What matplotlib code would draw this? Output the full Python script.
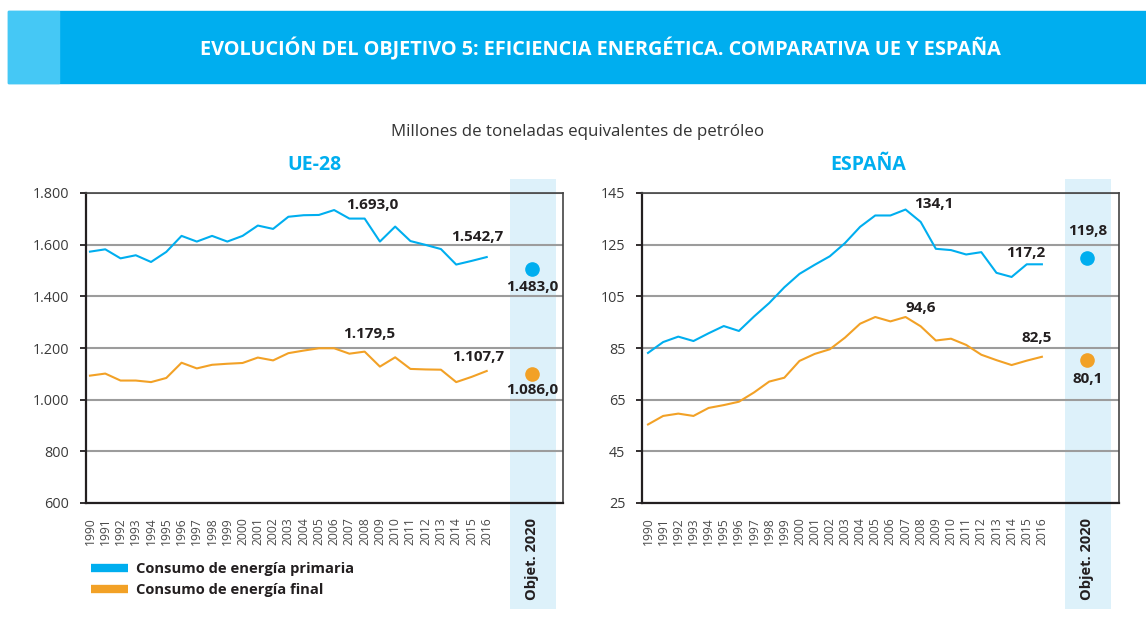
import matplotlib
matplotlib.use("Agg")
import matplotlib.pyplot as plt
import matplotlib.transforms as mtransforms
from matplotlib.patches import Rectangle
from matplotlib.lines import Line2D

plt.rcParams['font.family'] = ['Open Sans', 'DejaVu Sans']

# --- datos (Mtep) ---
years = list(range(1990, 2017))
ue_primaria = [1573, 1582, 1547, 1559, 1533, 1572, 1634, 1612, 1634, 1612, 1634, 1674, 1661, 1708,
               1714, 1715, 1734, 1701, 1701, 1612, 1670, 1614, 1599, 1583, 1523, 1537, 1552]
ue_final = [1093, 1101, 1074, 1074, 1068, 1084, 1143, 1121, 1135, 1139, 1142, 1163, 1152, 1180,
            1190, 1199, 1199, 1178, 1186, 1128, 1164, 1119, 1117, 1116, 1068, 1088, 1111]
ue_objetivo = [1507, 1098]
ue_etiquetas = ["1.693,0", "1.542,7", "1.483,0", "1.179,5", "1.107,7", "1.086,0"]

es_primaria = [83.1, 87.3, 89.4, 87.7, 90.7, 93.5, 91.6, 97.2, 102.4, 108.5, 113.7, 117.2, 120.5, 125.6,
               131.9, 136.3, 136.3, 138.6, 133.8, 123.4, 122.9, 121.2, 122.1, 114.1, 112.5, 117.4, 117.4]
es_final = [55.4, 58.7, 59.6, 58.7, 61.8, 62.9, 64.2, 67.8, 72.0, 73.5, 80.0, 82.7, 84.5, 89.0,
            94.4, 97.0, 95.3, 97.0, 93.4, 87.9, 88.6, 86.2, 82.4, 80.3, 78.4, 80.1, 81.6]
es_objetivo = [119.8, 80.3]
es_etiquetas = ["134,1", "117,2", "119,8", "94,6", "82,5", "80,1"]

ue_yticks = [600, 800, 1000, 1200, 1400, 1600, 1800]
ue_ylabels = ["600", "800", "1.000", "1.200", "1.400", "1.600", "1.800"]
es_yticks = [25, 45, 65, 85, 105, 125, 145]
es_ylabels = [str(v) for v in es_yticks]

titulo = "EVOLUCIÓN DEL OBJETIVO 5: EFICIENCIA ENERGÉTICA. COMPARATIVA UE Y ESPAÑA"
subtitulo = "Millones de toneladas equivalentes de petróleo"
leyenda = ["Consumo de energía primaria", "Consumo de energía final"]

AZUL = '#00AEEF'
NARANJA = '#F2A126'
BANDA = '#DDF1FA'
TXT = '#231F20'

W, H = 1146, 630
fig = plt.figure(figsize=(W / 100, H / 100), dpi=100)


def fx(px):
    return px / W


def fy(py):
    return 1 - py / H


# cabecera
fig.patches.append(Rectangle((fx(8), fy(83)), fx(W) - fx(8), 72 / H, transform=fig.transFigure,
                             color=AZUL, zorder=0))
fig.patches.append(Rectangle((fx(8), fy(83)), 51 / W, 72 / H, transform=fig.transFigure,
                             color='#45C8F5', zorder=1))
fig.text(fx(600), fy(55), titulo, color='white', fontsize=14.3, weight='bold',
         ha='center', va='baseline')
fig.text(fx(578), fy(136), subtitulo, color='#333333', fontsize=12.2, ha='center', va='baseline')


def panel(left_px, right_px, x0, x1, ylim, yticks, ylabels, primaria, final, objetivo,
          etiquetas, pico, offsets, nombre, nombre_x):
    ax = fig.add_axes([fx(left_px), fy(503), (right_px - left_px) / W, 310 / H])
    ax.set_xlim(x0, x1)
    ax.set_ylim(*ylim)
    idx = list(range(len(years)))

    ax.axvspan(27.54, 30.54, ymin=-0.342, ymax=1.045, color=BANDA, lw=0, zorder=0.2, clip_on=False)
    ax.set_axisbelow(True)
    ax.yaxis.grid(True, color='#9C9C9C', lw=1.5)

    ax.plot(idx, primaria, color=AZUL, lw=1.5, zorder=3)
    ax.plot(idx, final, color=NARANJA, lw=1.5, zorder=3)
    ax.plot([29], [objetivo[0]], 'o', ms=9.5, color=AZUL, zorder=4, clip_on=False)
    ax.plot([29], [objetivo[1]], 'o', ms=9.5, color=NARANJA, zorder=4, clip_on=False)

    fin = len(years) - 1
    anclas = [(pico, primaria[pico]), (fin, primaria[fin]), (29, objetivo[0]),
              (pico, final[pico]), (fin, final[fin]), (29, objetivo[1])]
    for txt, (xi, yv), off in zip(etiquetas, anclas, offsets):
        ax.annotate(txt, xy=(xi, yv), xytext=off, textcoords='offset pixels',
                    ha='center', va='center', fontsize=11, weight='bold', color=TXT, zorder=5)

    ax.set_yticks(yticks)
    ax.set_yticklabels(ylabels)
    ax.set_xticks(idx)
    ax.set_xticklabels([str(y) for y in years], rotation=90)
    ax.tick_params(axis='y', length=4, width=1.3, color=TXT, pad=8, labelsize=10.4, labelcolor='#3a3a3a')
    ax.tick_params(axis='x', length=0, pad=10, labelsize=8.7, labelcolor='#4a4a4a')

    for s in ['left', 'bottom']:
        ax.spines[s].set_color(TXT)
        ax.spines[s].set_linewidth(1.6)
    for s in ['top', 'right']:
        ax.spines[s].set_color('#444444')
        ax.spines[s].set_linewidth(1.2)

    trans = mtransforms.blended_transform_factory(ax.transData, ax.transAxes)
    ax.text(29, -0.18, "Objet. 2020", transform=trans, rotation=90, ha='center', va='center',
            fontsize=10.5, weight='bold', color=TXT, zorder=5)
    fig.text(fx(nombre_x), fy(170.5), nombre, color=AZUL, fontsize=14, weight='bold',
             ha='center', va='baseline')
    return ax


panel(86, 563, -0.262, 31.0, (600, 1800), ue_yticks, ue_ylabels, ue_primaria, ue_final,
      ue_objetivo, ue_etiquetas, 16,
      [(38, 5), (-9, 20), (0, -18), (35, 14), (-9, 14), (0, -16)], "UE-28", 314)
panel(642, 1119, -0.396, 31.09, (25, 145), es_yticks, es_ylabels, es_primaria, es_final,
      es_objetivo, es_etiquetas, 17,
      [(28, 6), (-16, 11), (0, 27), (15, 9), (-5, 19), (0, -19)], "ESPAÑA", 868)

handles = [Line2D([], [], color=AZUL, lw=6, solid_capstyle='butt'),
           Line2D([], [], color=NARANJA, lw=6, solid_capstyle='butt')]
fig.legend(handles, leyenda, loc='center left', bbox_to_anchor=(fx(91), fy(579.5)),
           frameon=False, prop={'weight': 'bold', 'size': 10.6},
           handlelength=2.5, handletextpad=0.55, labelspacing=0.5, borderpad=0,
           borderaxespad=0, labelcolor=TXT)

fig.savefig("out.png", dpi=100)
